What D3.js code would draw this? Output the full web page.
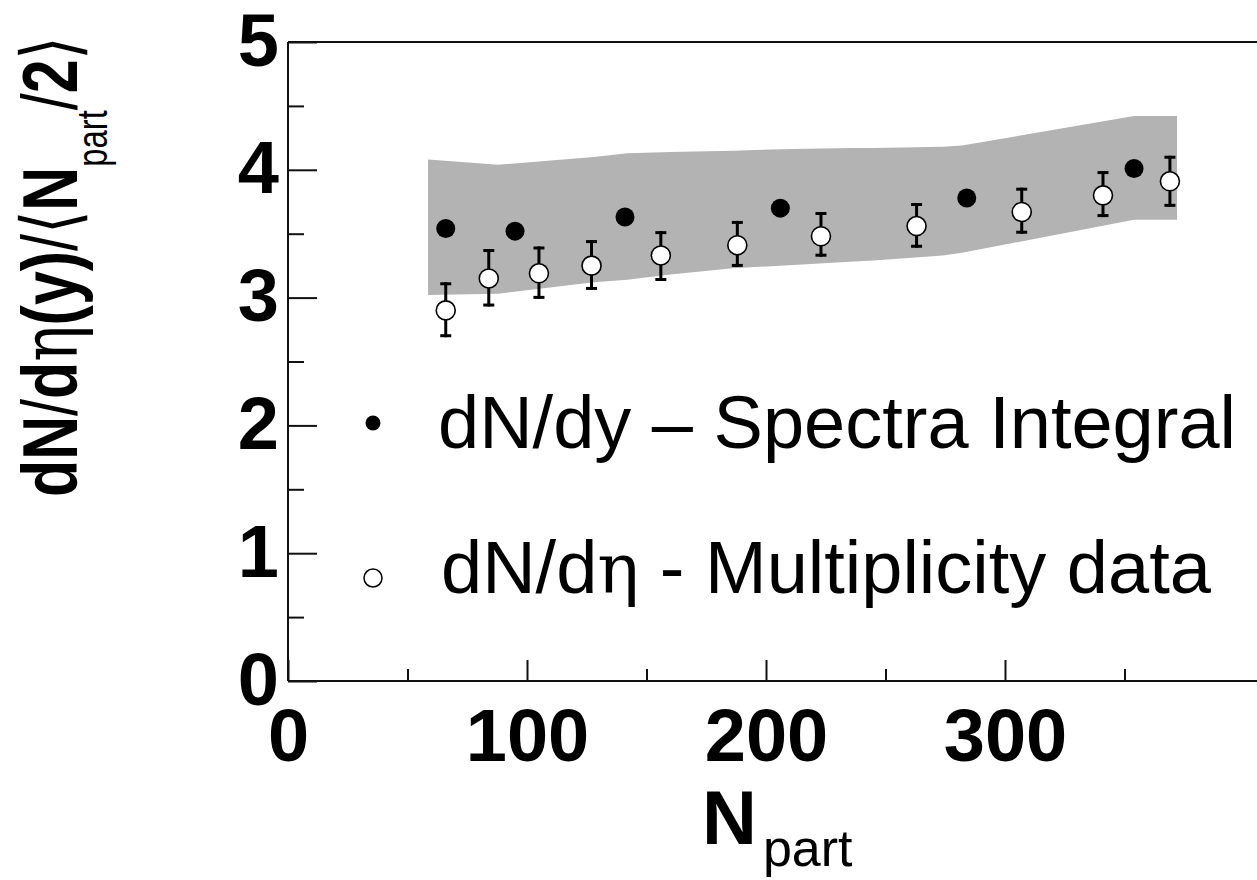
<!DOCTYPE html>
<html>
<head>
<meta charset="utf-8">
<script src="https://cdn.jsdelivr.net/npm/d3@7"></script>
<style>
  html, body { margin: 0; padding: 0; background: #fff; overflow: hidden; }
  svg { display: block; }
</style>
</head>
<body>
<svg id="chart" width="1257" height="880"></svg>
<script>
// ---------- data ----------
const xTickValues = [0, 100, 200, 300];
const xMinorValues = [50, 150, 250, 350];
const yTickValues = [0, 1, 2, 3, 4, 5];
const yMinorValues = [0.5, 1.5, 2.5, 3.5, 4.5];

// dN/dy – Spectra Integral (filled)
const specN = [66, 95, 141, 206, 284, 354];
const specY = [3.54, 3.52, 3.63, 3.70, 3.78, 4.01];

// dN/deta – Multiplicity data (open, with error bars)
const multN  = [66, 84, 105, 127, 156, 188, 223, 263, 307, 341, 369];
const multY  = [2.90, 3.15, 3.19, 3.25, 3.33, 3.41, 3.48, 3.56, 3.67, 3.80, 3.91];
const multHi = [3.12, 3.38, 3.40, 3.45, 3.52, 3.60, 3.67, 3.74, 3.86, 3.99, 4.11];
const multLo = [2.69, 2.93, 2.99, 3.06, 3.13, 3.24, 3.32, 3.39, 3.50, 3.63, 3.71];

// systematic band
const bandN  = [58.6, 88, 128, 142, 160, 186, 206, 235, 245, 274, 282, 354, 372];
const bandHi = [4.08, 4.04, 4.10, 4.13, 4.14, 4.15, 4.16, 4.17, 4.17, 4.18, 4.19, 4.42, 4.42];
const bandLo = [3.02, 3.03, 3.12, 3.14, 3.18, 3.23, 3.25, 3.28, 3.29, 3.33, 3.35, 3.61, 3.61];

const legendLabels = ["dN/dy \u2013 Spectra Integral", "dN/d", "\u03B7", " - Multiplicity data"];

// ---------- scales ----------
const svg = d3.select("#chart");
const x = d3.scaleLinear().domain([0, 410]).range([288, 288 + 410 * 2.39]);
const y = d3.scaleLinear().domain([0, 5]).range([681, 42]);

const boldFont = "'Liberation Sans', Arial, Helvetica, sans-serif";

// ---------- band ----------
const band = bandN.map((n, i) => ({ n, hi: bandHi[i], lo: bandLo[i] }));
svg.append("path")
  .datum(band)
  .attr("fill", "#b3b3b3")
  .attr("d", d3.area().x(d => x(d.n)).y0(d => y(d.lo)).y1(d => y(d.hi)));

// ---------- frame ----------
const frame = svg.append("g").attr("stroke", "#111").attr("stroke-width", 2).attr("fill", "none");
frame.append("line").attr("x1", x(0)).attr("x2", x(0)).attr("y1", y(5)).attr("y2", y(0));
frame.append("line").attr("x1", x(0)).attr("x2", 1257).attr("y1", y(0)).attr("y2", y(0));
frame.append("line").attr("x1", x(0)).attr("x2", 1257).attr("y1", y(5)).attr("y2", y(5));

// ---------- axes ----------
const xMaj = svg.append("g").attr("transform", `translate(0,${y(0)})`)
  .call(d3.axisBottom(x).tickValues(xTickValues).tickSize(-21).tickFormat(d3.format("d")));
const xMin = svg.append("g").attr("transform", `translate(0,${y(0)})`)
  .call(d3.axisBottom(x).tickValues(xMinorValues).tickSize(-12).tickFormat(""));
const yMaj = svg.append("g").attr("transform", `translate(${x(0)},0)`)
  .call(d3.axisLeft(y).tickValues(yTickValues).tickSize(-29).tickFormat(d3.format("d")));
const yMin = svg.append("g").attr("transform", `translate(${x(0)},0)`)
  .call(d3.axisLeft(y).tickValues(yMinorValues).tickSize(-16).tickFormat(""));

[xMaj, xMin, yMaj, yMin].forEach(g => {
  g.select(".domain").remove();
  g.selectAll(".tick line").attr("stroke", "#111").attr("stroke-width", 2);
});

xMaj.selectAll(".tick text")
  .attr("y", 80).attr("dy", null)
  .attr("font-family", boldFont).attr("font-weight", "bold")
  .attr("font-size", 74).attr("fill", "#000")
  .attr("text-anchor", "middle");

yMaj.selectAll(".tick text")
  .attr("x", -9).attr("dy", 23)
  .attr("font-family", boldFont).attr("font-weight", "bold")
  .attr("font-size", 74).attr("fill", "#000")
  .attr("text-anchor", "end");

// ---------- error bars ----------
const mult = multN.map((n, i) => ({ n, v: multY[i], hi: multHi[i], lo: multLo[i] }));
const eb = svg.append("g").attr("stroke", "#000").attr("stroke-width", 3);
eb.selectAll("line.stem").data(mult).join("line")
  .attr("class", "stem")
  .attr("x1", d => x(d.n)).attr("x2", d => x(d.n))
  .attr("y1", d => y(d.hi)).attr("y2", d => y(d.lo));
eb.selectAll("line.capT").data(mult).join("line")
  .attr("class", "capT")
  .attr("x1", d => x(d.n) - 5.5).attr("x2", d => x(d.n) + 5.5)
  .attr("y1", d => y(d.hi) + 1.5).attr("y2", d => y(d.hi) + 1.5);
eb.selectAll("line.capB").data(mult).join("line")
  .attr("class", "capB")
  .attr("x1", d => x(d.n) - 5.5).attr("x2", d => x(d.n) + 5.5)
  .attr("y1", d => y(d.lo) - 1.5).attr("y2", d => y(d.lo) - 1.5);

svg.append("g").selectAll("circle").data(mult).join("circle")
  .attr("cx", d => x(d.n)).attr("cy", d => y(d.v)).attr("r", 9.5)
  .attr("fill", "#fff").attr("stroke", "#000").attr("stroke-width", 1.6);

// ---------- filled points ----------
const spec = specN.map((n, i) => ({ n, v: specY[i] }));
svg.append("g").selectAll("circle").data(spec).join("circle")
  .attr("cx", d => x(d.n)).attr("cy", d => y(d.v)).attr("r", 9.5)
  .attr("fill", "#000");

// ---------- legend ----------
const legend = svg.append("g").attr("font-family", boldFont).attr("fill", "#000");
legend.append("circle").attr("cx", 373).attr("cy", 423).attr("r", 7.5).attr("fill", "#000");
legend.append("text").attr("x", 438).attr("y", 448).attr("font-size", 74).text(legendLabels[0]);
legend.append("circle").attr("cx", 373).attr("cy", 578).attr("r", 9).attr("fill", "#fff")
  .attr("stroke", "#000").attr("stroke-width", 1.5);
const l2 = legend.append("text").attr("x", 441).attr("y", 593).attr("font-size", 74);
l2.append("tspan").text(legendLabels[1]);
l2.append("tspan").attr("font-family", "'DejaVu Serif', 'Liberation Serif', serif").attr("font-size", 70).text(legendLabels[2]);
l2.append("tspan").text(legendLabels[3]);

// ---------- axis titles ----------
const xt = svg.append("text").attr("x", 702).attr("y", 844).attr("font-family", boldFont).attr("fill", "#000");
xt.append("tspan").attr("font-weight", "bold").attr("font-size", 76).text("N");
xt.append("tspan").attr("font-size", 52).attr("dx", 6).attr("dy", 22).text("part");

const yt = svg.append("text")
  .attr("transform", "translate(77,497) rotate(-90) scale(0.78,1)")
  .attr("font-family", boldFont).attr("fill", "#000").attr("font-size", 78);
const serif = "'DejaVu Serif', 'Liberation Serif', serif";
yt.append("tspan").attr("font-weight", "bold").text("dN");
yt.append("tspan").attr("font-weight", "normal").text("/");
yt.append("tspan").attr("font-weight", "bold").text("d");
yt.append("tspan").attr("font-family", serif).attr("font-weight", "normal").text("\u03B7");
yt.append("tspan").attr("font-weight", "bold").text("(y)");
yt.append("tspan").attr("font-weight", "normal").text("/\u27E8");
yt.append("tspan").attr("font-weight", "bold").text("N");
yt.append("tspan").attr("font-weight", "normal").attr("font-size", 42).attr("dy", 30).text("part");
yt.append("tspan").attr("font-weight", "normal").attr("dy", -30).text("/");
yt.append("tspan").attr("font-weight", "bold").text("2");
yt.append("tspan").attr("font-weight", "normal").text("\u27E9");
</script>
</body>
</html>
